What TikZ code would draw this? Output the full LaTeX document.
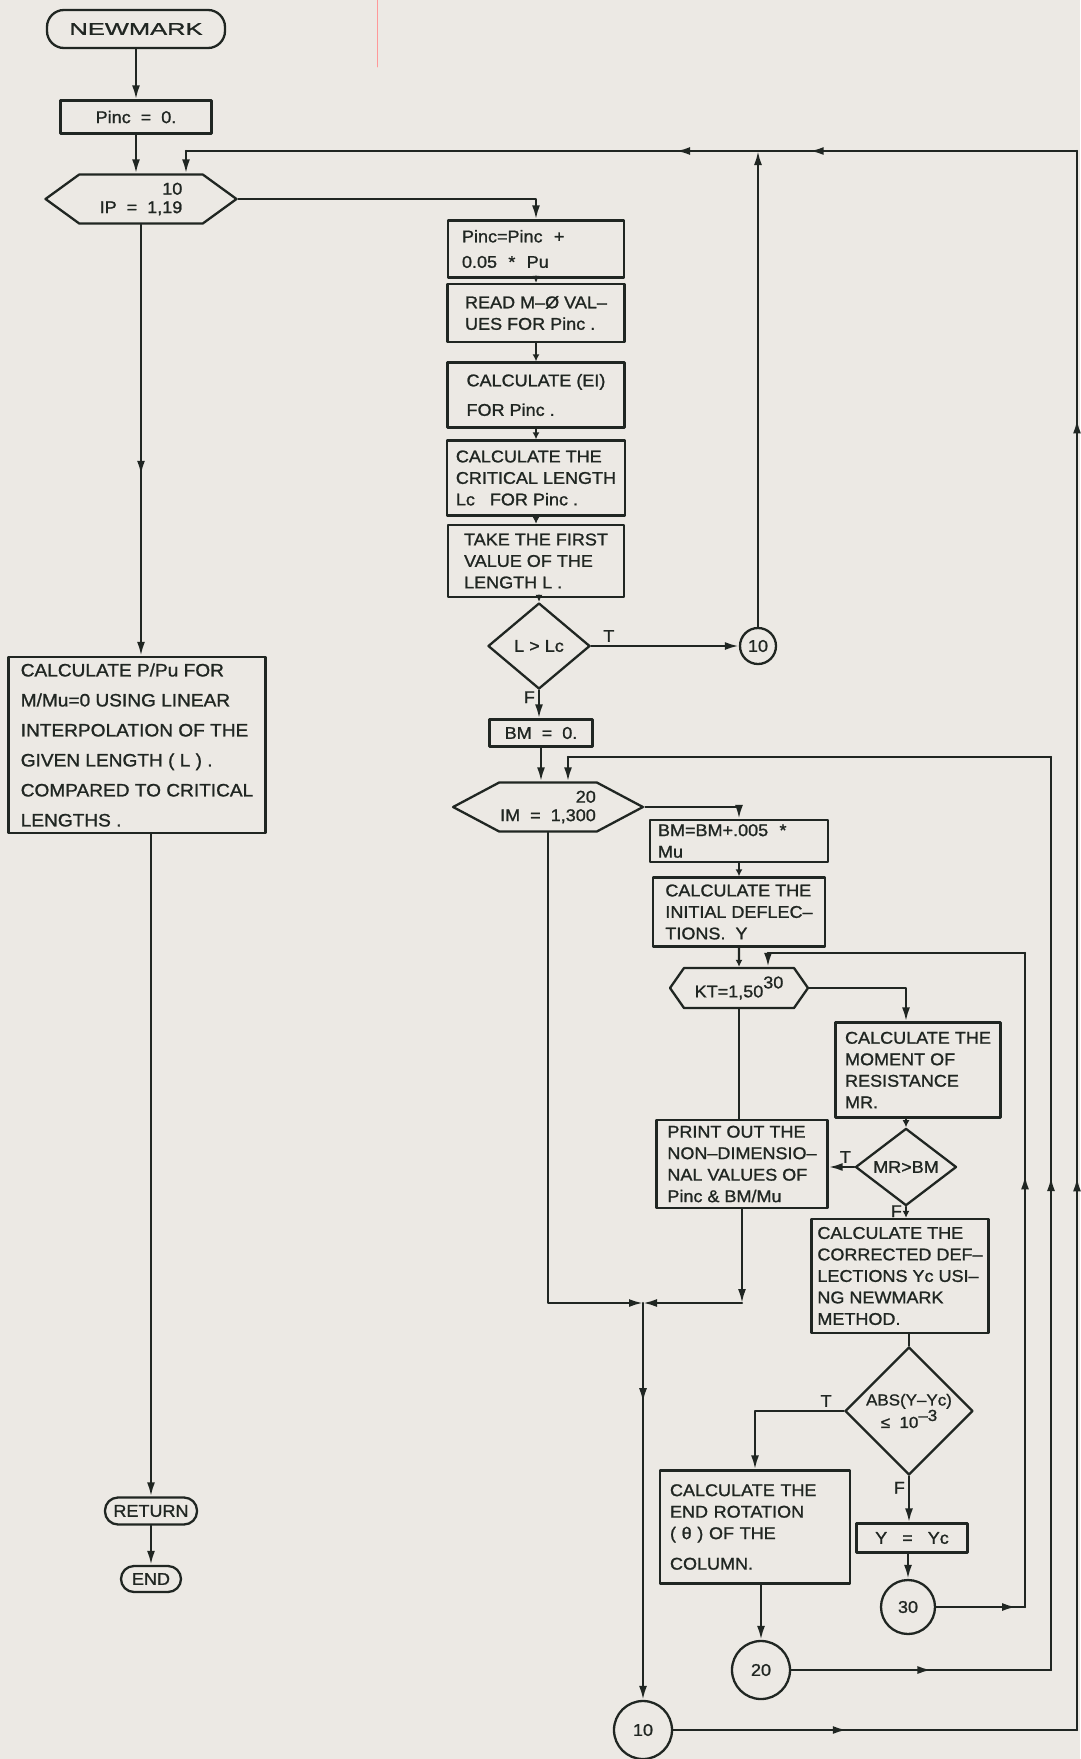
\documentclass[tikz,border=0pt]{standalone}
\usepackage{fontspec}
\setmainfont{Liberation Sans}[FakeStretch=1.06, FakeBold=1.2]
\newfontfamily\widefont{Liberation Sans}[FakeStretch=1.5, FakeBold=1.2]
\usetikzlibrary{arrows.meta,shapes.geometric,shapes.symbols,decorations.markings}

\definecolor{paper}{RGB}{236,233,228}
\definecolor{ink}{RGB}{32,38,34}

\tikzset{
  txt/.style={font=\fontsize{17}{21.5}\selectfont},
  flow/.style={-{Latex[length=14pt,width=8pt]}},
  shortflow/.style={-{Latex[length=7pt,width=7pt]}},
  midarr/.style={postaction={decorate,decoration={markings,
      mark=at position #1 with {\arrow{Latex[length=14pt,width=8pt]}}}}},
  box/.style={txt, draw, rectangle, inner xsep=5pt, inner ysep=2pt, align=left},
  term/.style={txt, draw, rectangle, rounded corners=13pt, inner sep=2pt},
  hexa/.style={txt, draw, signal, signal to=east and west, signal pointer angle=#1,
    inner sep=1pt, align=right},
  decide/.style={txt, draw, diamond, inner sep=0pt, align=center},
  conn/.style={txt, draw, circle, inner sep=0pt},
  lbl/.style={txt, inner sep=3pt},
}

\begin{document}
\begin{tikzpicture}[x=1pt, y=-1pt, line width=2.3pt, line cap=round, line join=round, color=ink]
  \useasboundingbox (0,0) rectangle (1080,1759);
  \fill[paper] (0,0) rectangle (1080,1759);
  \draw[red!40, line width=0.8pt] (377,0) -- (377,67);

  % left column
  \node[term, minimum width=178, minimum height=38, rounded corners=17pt,
    font=\widefont\fontsize{17}{20}\selectfont] (start) at (136,29) {NEWMARK};
  \node[box, align=center, minimum width=151, minimum height=33] (pinit) at (136,117) {Pinc ~=~ 0.};
  \node[hexa=72, minimum width=191, minimum height=49] (ip) at (141,199) {10\\[-3pt]IP ~=~ 1,19};
  \node[box, minimum width=257, minimum height=176, font=\fontsize{18}{30}\selectfont] (ppu) at (137,745)
    {CALCULATE P/Pu FOR\\M/Mu=0 USING LINEAR\\INTERPOLATION OF THE\\GIVEN LENGTH ( L ) .\\COMPARED TO CRITICAL\\LENGTHS .};
  \node[term, minimum width=92, minimum height=27] (ret) at (151,1511) {RETURN};
  \node[term, minimum width=60, minimum height=26] (fin) at (151,1579) {END};

  % middle column
  \node[box, minimum width=176, minimum height=57, inner xsep=14pt, text width=148] (pinc) at (536,249)
    {Pinc=Pinc ~+\\[4pt]0.05 ~* ~Pu};
  \node[box, minimum width=177, minimum height=58] (read) at (536,313) {READ M--Ø VAL--\\UES FOR Pinc .};
  \node[box, minimum width=177, minimum height=65] (ei) at (536,395) {CALCULATE (EI)\\[8pt]FOR Pinc .};
  \node[box, minimum width=178, minimum height=75, inner xsep=2pt] (lc) at (536,478)
    {CALCULATE THE\\CRITICAL LENGTH\\Lc ~~FOR Pinc .};
  \node[box, minimum width=176, minimum height=72] (first) at (536,561) {TAKE THE FIRST\\VALUE OF THE\\LENGTH L .};
  \node[decide, minimum width=102, minimum height=86] (dlc) at (539,646) {L > Lc};
  \node[conn, minimum size=36] (c10a) at (758,646) {10};
  \node[box, align=center, minimum width=103, minimum height=27] (bm0) at (541,733) {BM ~=~ 0.};
  \node[hexa=56, minimum width=169, minimum height=49] (im) at (548,807) {20\\[-3pt]IM ~=~ 1,300};

  % inner loops
  \node[box, minimum width=178, minimum height=42, text width=162] (bmbm) at (739,841) {BM=BM+.005 ~*\\Mu};
  \node[box, minimum width=172, minimum height=69] (init) at (739,912) {CALCULATE THE\\INITIAL DEFLEC--\\TIONS. ~Y};
  \node[hexa=110, minimum width=138, minimum height=40, align=center] (kt) at (739,988) {KT=1,50\raisebox{9pt}{30}};
  \node[box, minimum width=165, minimum height=95] (mr) at (918,1070) {CALCULATE THE\\MOMENT OF\\RESISTANCE\\MR.};
  \node[box, minimum width=171, minimum height=88] (print) at (742,1164)
    {PRINT OUT THE\\NON--DIMENSIO--\\NAL VALUES OF\\Pinc \& BM/Mu};
  \node[decide, minimum width=101, minimum height=70] (dmr) at (906,1167) {MR>BM};
  \node[box, minimum width=177, minimum height=114] (nm) at (900,1276)
    {CALCULATE THE\\CORRECTED DEF--\\LECTIONS Yc USI--\\NG NEWMARK\\METHOD.};
  \node[decide, minimum width=128, minimum height=128, font=\fontsize{16}{19}\selectfont] (dabs) at (909,1411)
    {ABS(Y--Yc)\\≤ ~10\raisebox{7pt}{--3}};
  \node[box, minimum width=190, minimum height=113, inner xsep=10pt, text width=170] (rot) at (755,1527)
    {CALCULATE THE\\END ROTATION\\( θ ) OF THE\\[9pt]COLUMN.};
  \node[box, align=center, minimum width=111, minimum height=29] (yyc) at (912,1538) {Y ~~=~~ Yc};
  \node[conn, minimum size=54] (c30) at (908,1607) {30};
  \node[conn, minimum size=58] (c20) at (761,1670) {20};
  \node[conn, minimum size=58] (c10b) at (643,1730) {10};

  % loop return points
  \coordinate (r10) at (1077,151);
  \coordinate (e10) at (186,151);
  \coordinate (r20) at (1051,757);
  \coordinate (e20) at (568,757);
  \coordinate (r30) at (1025,953);
  \coordinate (e30) at (768,953);
  \coordinate (merge) at (643,1303);

  \draw[flow] (start) -- (pinit);
  \draw[flow] (pinit.south) -- (pinit.south |- ip.north);
  \draw[flow] (ip.east) -| (pinc.north);
  \draw[shortflow] (pinc) -- (read);
  \draw[shortflow] (read) -- (ei);
  \draw[shortflow] (ei) -- (lc);
  \draw[shortflow] (lc) -- (first);
  \draw[shortflow] (first.south -| dlc) -- (dlc.north);
  \draw[flow] (dlc.east) -- node[lbl, pos=0.12, above] (tlc) {T} (c10a.west);
  \draw[flow] (dlc.south) -- node[lbl, pos=0.25, left] (flc) {F} (dlc.south |- bm0.north);
  \draw[flow] (bm0.south) -- (bm0.south |- im.north);
  \draw[flow] (im.east) -| (bmbm.north);
  \draw[shortflow] (bmbm) -- (init);
  \draw[shortflow] (init) -- (kt);
  \draw (kt.south) -- (kt.south |- print.north);
  \draw[flow] (kt.east) -| (dmr |- mr.north);
  \draw[shortflow] (mr.south -| dmr) -- (dmr.north);
  \draw[flow] (dmr.west) -- node[lbl, pos=0.35, above] (tmr) {T} (dmr.west -| print.east);
  \draw[shortflow] (dmr.south) -- node[lbl, pos=0.4, left] (fmr) {F} (dmr.south |- nm.north);
  \draw (nm.south -| dabs) -- (dabs.north);
  \draw[flow] (dabs.west) -| node[lbl, pos=0.1, above] (tabs) {T} (rot.north);
  \draw[flow] (dabs.south) -- node[lbl, pos=0.25, left] (fabs) {F} (dabs.south |- yyc.north);
  \draw[flow] (yyc.south -| c30) -- (c30.north);
  \draw[flow] (rot.south -| c20) -- (c20.north);

  % both branches meet and go to 10
  \draw[flow] (im.south) |- (merge);
  \draw[flow] (print.south) -- (print.south |- merge);
  \draw[flow] (print.south |- merge) -- (merge);
  \draw[flow, midarr=0.25] (merge) -- (c10b.north);

  % loop 10
  \draw[flow] (c10a.north) -- (c10a.north |- r10);
  \draw[midarr=0.43] (c10b.east) -- (c10b.east -| r10);
  \draw[midarr=0.35, midarr=0.83] (c10b.east -| r10) -- (r10);
  \draw[midarr=0.3, midarr=0.45] (r10) -- (e10);
  \draw[flow] (e10) -- (e10 |- ip.north);
  % loop 20
  \draw[midarr=0.54] (c20.east) -- (c20.east -| r20);
  \draw[midarr=0.54] (c20.east -| r20) -- (r20);
  \draw (r20) -- (e20);
  \draw[flow] (e20) -- (e20 |- im.north);
  % loop 30
  \draw[midarr=0.9] (c30.east) -- (c30.east -| r30);
  \draw[midarr=0.66] (c30.east -| r30) -- (r30);
  \draw (r30) -- (e30);
  \draw[flow] (e30) -- (e30 |- kt.north);

  % exit
  \draw[flow, midarr=0.58] (ip.south) -- (ip.south |- ppu.north);
  \draw[flow] (ppu.south -| ret) -- (ret.north);
  \draw[flow] (ret) -- (fin);
\end{tikzpicture}
\end{document}
